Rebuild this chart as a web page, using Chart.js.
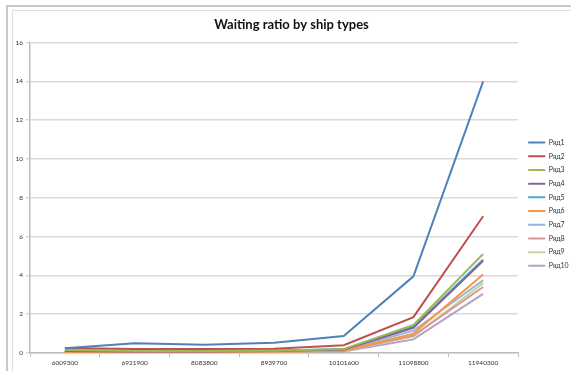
<!DOCTYPE html>
<html>
<head>
<meta charset="utf-8">
<script src="https://cdn.jsdelivr.net/npm/chart.js@4.4.0/dist/chart.umd.min.js"></script>
<style>
  html, body { margin: 0; padding: 0; background: #fff; }
  #wrap { position: relative; width: 571px; height: 371px; }
</style>
</head>
<body>
<div id="wrap"><canvas id="chartLine" width="571" height="371"></canvas></div>
<script>
var categories = ["6009300", "6921900", "8083800", "8939700", "10101600", "11098800", "11940300"];
var seriesNames = ["Ряд1", "Ряд2", "Ряд3", "Ряд4", "Ряд5", "Ряд6", "Ряд7", "Ряд8", "Ряд9", "Ряд10"];
var row1 = [0.25, 0.5, 0.42, 0.53, 0.88, 3.95, 14.0];
var row2 = [0.26, 0.2, 0.2, 0.22, 0.4, 1.85, 7.05];
var row3 = [0.15, 0.1, 0.1, 0.12, 0.2, 1.45, 5.1];
var row4 = [0.1, 0.08, 0.08, 0.1, 0.18, 1.3, 4.75];
var row5 = [0.12, 0.1, 0.1, 0.12, 0.2, 1.35, 4.82];
var row6 = [0.05, 0.05, 0.05, 0.07, 0.12, 1.0, 4.05];
var row7 = [0.1, 0.08, 0.08, 0.1, 0.15, 1.15, 3.75];
var row8 = [0.08, 0.06, 0.06, 0.08, 0.12, 0.9, 3.4];
var row9 = [0.06, 0.05, 0.05, 0.06, 0.1, 0.85, 3.6];
var row10 = [0.04, 0.03, 0.03, 0.05, 0.08, 0.7, 3.05];
var yTicks = [0, 2, 4, 6, 8, 10, 12, 14, 16];

var rows = [row1, row2, row3, row4, row5, row6, row7, row8, row9, row10];
var colors = ["#4F81BD", "#C0504D", "#9BBB59", "#8064A2", "#4BACC6", "#F79646", "#95B3D7", "#D99694", "#C3D69B", "#B3A2C7"];

var datasets = rows.map(function (r, i) {
    return {
        label: seriesNames[i],
        data: r,
        borderColor: colors[i],
        backgroundColor: colors[i],
        borderWidth: 2,
        pointRadius: 0,
        tension: 0
    };
});

// excel-ish chart frame
var framePlugin = {
    id: 'frame',
    beforeDraw: function (chart) {
        var c = chart.ctx;
        c.save();
        c.fillStyle = '#fff';
        c.fillRect(0, 0, chart.width, chart.height);
        c.strokeStyle = '#c8c8c8';
        c.lineWidth = 2;
        c.beginPath();
        c.moveTo(7, chart.height);
        c.lineTo(7, 6);
        c.lineTo(chart.width, 6);
        c.stroke();
        c.strokeStyle = '#dedede';
        c.lineWidth = 1;
        c.beginPath();
        c.moveTo(12.5, chart.height);
        c.lineTo(12.5, 10.5);
        c.lineTo(chart.width, 10.5);
        c.stroke();
        c.restore();
    }
};

var lineChart = new Chart(document.getElementById("chartLine"), {
    type: 'line',
    data: {
        labels: categories,
        datasets: datasets
    },
    options: {
        responsive: false,
        animation: false,
        layout: {
            padding: { left: 12, right: 0, top: 0, bottom: 2 }
        },
        plugins: {
            legend: {
                display: true,
                position: 'right',
                maxWidth: 49.5,
                title: {
                    display: true,
                    text: ' ',
                    padding: { top: 31, bottom: 0 },
                    font: { size: 7 }
                },
                labels: {
                    usePointStyle: true,
                    pointStyle: 'line',
                    pointStyleWidth: 17,
                    boxWidth: 17,
                    boxHeight: 6,
                    padding: 6.7,
                    color: '#333',
                    font: { family: 'Lato, "Liberation Sans", sans-serif', size: 7 }
                }
            },
            title: {
                display: true,
                text: 'Waiting ratio by ship types',
                color: '#111',
                padding: { top: 17, bottom: 10 },
                font: { family: 'Lato, "Liberation Sans", sans-serif', size: 13, weight: 'bold' }
            },
            tooltip: { enabled: false }
        },
        scales: {
            x: {
                offset: true,
                grid: {
                    offset: true,
                    drawOnChartArea: false,
                    drawTicks: true,
                    tickLength: 4,
                    color: '#bdbdbd'
                },
                border: { color: '#bdbdbd', width: 1.5 },
                ticks: {
                    color: '#333',
                    maxRotation: 0,
                    autoSkip: false,
                    padding: 2,
                    font: { family: 'Lato, "Liberation Sans", sans-serif', size: 6.5 }
                },
                afterFit: function (scale) { scale.height = 16; }
            },
            y: {
                min: 0,
                max: 16,
                afterBuildTicks: function (scale) {
                    scale.ticks = yTicks.map(function (v) { return { value: v }; });
                },
                grid: {
                    color: '#d9d9d9',
                    lineWidth: 1.5,
                    tickLength: 4
                },
                border: { color: '#bdbdbd', width: 1.5 },
                ticks: {
                    color: '#333',
                    padding: 3,
                    font: { family: 'Lato, "Liberation Sans", sans-serif', size: 6.5 }
                },
                afterFit: function (scale) { scale.width = 18; }
            },
            // empty gap between plot and legend
            gap: {
                type: 'linear',
                position: 'right',
                grid: { display: false },
                border: { display: false },
                ticks: { display: false },
                afterFit: function (scale) { scale.width = 3.5; }
            }
        }
    },
    plugins: [framePlugin]
});
</script>
</body>
</html>
